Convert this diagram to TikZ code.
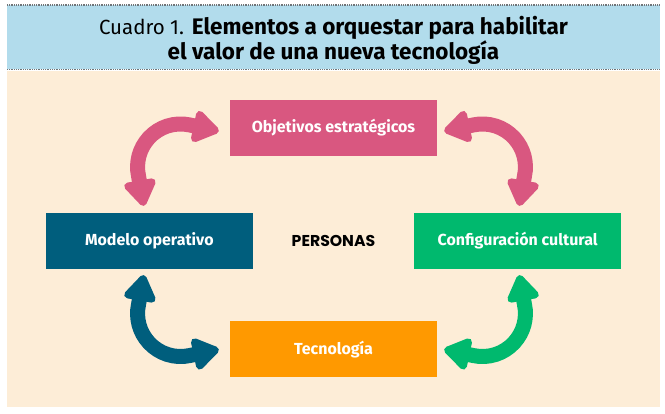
\documentclass[tikz,border=0pt]{standalone}
\usepackage{fontspec}
\setmainfont{Fira Sans}
\newfontfamily\personasfont{Poppins}
\usetikzlibrary{arrows.meta, positioning, calc}
\definecolor{rosa}{HTML}{D95780}
\definecolor{azul}{HTML}{005E7D}
\definecolor{verde}{HTML}{00B96E}
\definecolor{naranja}{HTML}{FF9900}
\definecolor{crema}{HTML}{FDEDD7}
\definecolor{celeste}{HTML}{B2DCEC}
\definecolor{punteado}{HTML}{6F7478}
\tikzstyle{block} = [rectangle, text centered, minimum width=207pt, minimum height=56pt, inner sep=0pt, text=white, font=\fontsize{16}{18}\selectfont\bfseries]
\tikzstyle{flecha} = [line width=15pt, {Triangle[length=29pt, width=36pt, round]}-{Triangle[length=29pt, width=36pt, round]}]
\tikzstyle{borde} = [punteado, line width=1.3pt, dash pattern=on 1pt off 0.8pt]

\begin{document}
\begin{tikzpicture}[x=1pt, y=1pt]
	\useasboundingbox (0,0) rectangle (665,-414);

	% Background and title band
	\fill[crema] (7,-71) rectangle (660,-407);
	\fill[celeste] (7,-5) rectangle (660,-69);
	\draw[borde] (7,-5) -- (660,-5);
	\draw[borde] (7,-69.5) -- (660,-69.5);
	\node (title) at (333.5,-40) [align=center, font=\fontsize{22.5}{20}\selectfont] {{\fontsize{20.5}{20}\selectfont Cuadro 1.} \textbf{Elementos a orquestar para habilitar}\\\textbf{el valor de una nueva tecnología}};

	% Centre and boxes
	\node (personas) at (333.5,-241) [minimum width=82pt, minimum height=12pt, inner sep=0pt, font=\personasfont\fontsize{15.7}{18}\selectfont\bfseries] {PERSONAS};
	\node (objetivos) [block, fill=rosa, above=79pt of personas] {Objetivos estratégicos};
	\node (modelo) [block, fill=azul, left=38.5pt of personas] {Modelo operativo};
	\node (cultura) [block, fill=verde, right=38.5pt of personas] {Configuración cultural};
	\node (tecnologia) [block, fill=naranja, below=74pt of personas] {Tecnología};

	% Arrows
	\draw[flecha, rosa] ($(objetivos.west)+(-11,-3.5)$) -- ++(-29.3,6.2) arc[start angle=78, end angle=192, radius=43] -- ($(modelo.north)+(-5.6,6.9)$);
	\draw[flecha, rosa] ($(objetivos.east)+(7,-3.5)$) -- ++(29.3,6.2) arc[start angle=102, end angle=-12, radius=43] -- ($(cultura.north)+(1.6,6.9)$);
	\draw[flecha, azul] ($(tecnologia.west)+(-11,0)$) -- ++(-29.3,-6.2) arc[start angle=-78, end angle=-192, radius=43] -- ($(modelo.south)+(-5.6,-5.9)$);
	\draw[flecha, verde] ($(tecnologia.east)+(7,0)$) -- ++(29.3,-6.2) arc[start angle=-102, end angle=12, radius=43] -- ($(cultura.south)+(1.6,-5.9)$);

\end{tikzpicture}
\end{document}
